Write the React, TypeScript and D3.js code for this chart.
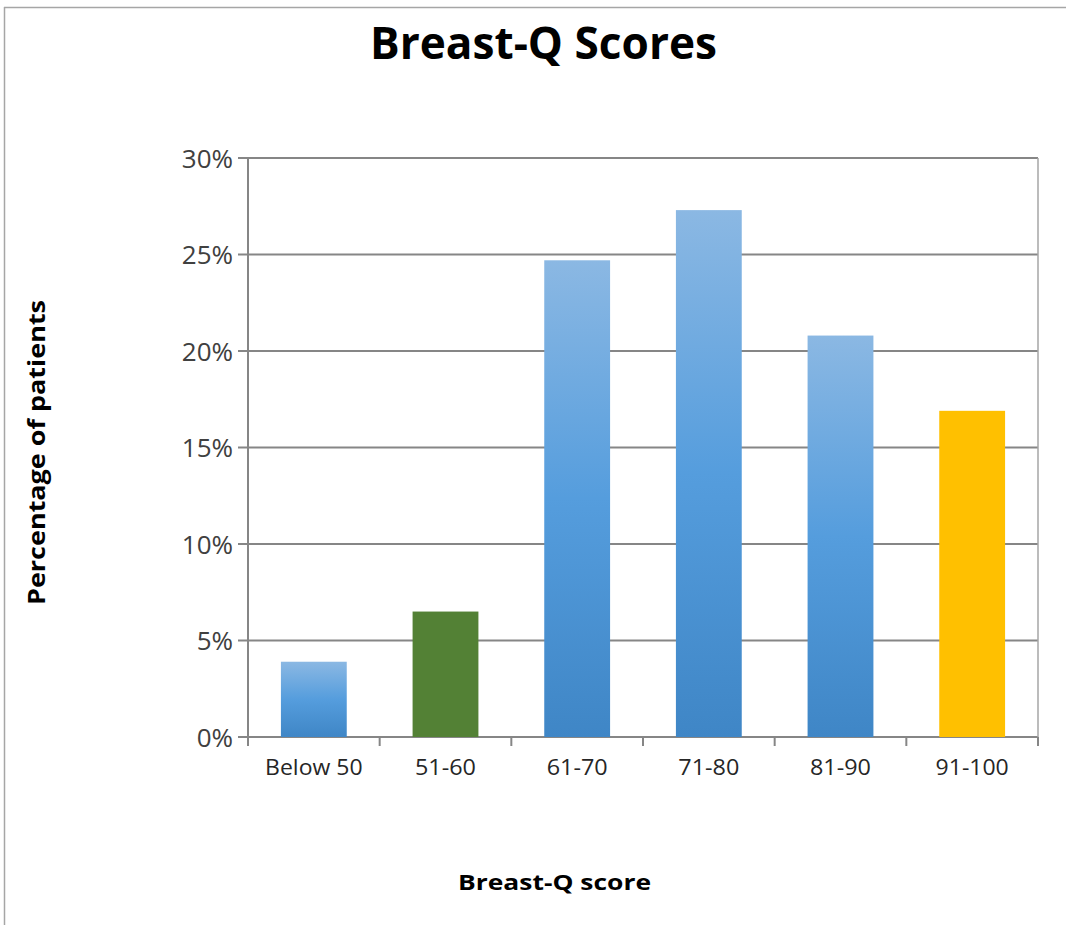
import React, { useEffect, useRef } from 'react';
import * as d3 from 'd3';

const categories = ['Below 50', '51-60', '61-70', '71-80', '81-90', '91-100'];
const percentages = [3.9, 6.5, 24.7, 27.3, 20.8, 16.9];
const barKinds = ['blue', 'green', 'blue', 'blue', 'blue', 'yellow'];
const yTicks = [0, 5, 10, 15, 20, 25, 30];

const W = 1066;
const H = 925;

const App = () => {
  const svgRef = useRef<SVGSVGElement>(null);

  useEffect(() => {
    const svg = d3.select(svgRef.current);
    svg.selectAll('*').remove();

    const left = 248, right = 1038, top = 158, bottom = 737;
    const font = 'Open Sans, sans-serif';

    const defs = svg.append('defs');
    const grad = defs.append('linearGradient')
      .attr('id', 'blueGrad')
      .attr('x1', 0).attr('y1', 0).attr('x2', 0).attr('y2', 1);
    grad.append('stop').attr('offset', '0%').attr('stop-color', '#8bb8e3');
    grad.append('stop').attr('offset', '50%').attr('stop-color', '#559ddd');
    grad.append('stop').attr('offset', '100%').attr('stop-color', '#3f86c6');

    const fills: Record<string, string> = {
      blue: 'url(#blueGrad)',
      green: '#538135',
      yellow: '#ffc000',
    };

    // outer frame (clipped)
    svg.append('line').attr('x1', 4).attr('x2', W).attr('y1', 7.5).attr('y2', 7.5)
      .attr('stroke', '#a6a6a6').attr('stroke-width', 1.5);
    svg.append('line').attr('x1', 4.5).attr('x2', 4.5).attr('y1', 7).attr('y2', H)
      .attr('stroke', '#a6a6a6').attr('stroke-width', 1.5);

    const x = d3.scaleBand().domain(categories).range([left, right]).paddingInner(0.5).paddingOuter(0.25);
    const y = d3.scaleLinear().domain([0, 30]).range([bottom, top]);

    // gridlines
    svg.append('g').selectAll('line').data(yTicks).enter().append('line')
      .attr('x1', left - 10).attr('x2', right)
      .attr('y1', d => y(d)).attr('y2', d => y(d))
      .attr('stroke', '#868686').attr('stroke-width', 2);

    // right border of plot
    svg.append('line').attr('x1', right).attr('x2', right).attr('y1', top).attr('y2', bottom)
      .attr('stroke', '#a6a6a6').attr('stroke-width', 1.5);

    // bars
    svg.append('g').selectAll('rect').data(categories).enter().append('rect')
      .attr('x', d => x(d)!)
      .attr('width', x.bandwidth())
      .attr('y', (d, i) => y(percentages[i]))
      .attr('height', (d, i) => bottom - y(percentages[i]))
      .attr('fill', (d, i) => fills[barKinds[i]]);

    // y axis line
    svg.append('line').attr('x1', left).attr('x2', left).attr('y1', top).attr('y2', bottom)
      .attr('stroke', '#868686').attr('stroke-width', 2);
    // x axis ticks
    const step = x.step();
    svg.append('g').selectAll('line').data(d3.range(categories.length + 1)).enter().append('line')
      .attr('x1', i => left + i * step).attr('x2', i => left + i * step)
      .attr('y1', bottom).attr('y2', bottom + 9)
      .attr('stroke', '#868686').attr('stroke-width', 2);

    // y tick labels
    svg.append('g').selectAll('text').data(yTicks).enter().append('text')
      .attr('x', left - 15).attr('y', d => y(d) + 9.5)
      .attr('text-anchor', 'end')
      .attr('font-family', font)
      .attr('font-size', 26)
      .attr('fill', '#404040')
      .text(d => `${d}%`);

    // x tick labels
    svg.append('g').selectAll('text').data(categories).enter().append('text')
      .attr('x', d => x(d)! + x.bandwidth() / 2).attr('y', bottom + 38)
      .attr('text-anchor', 'middle')
      .attr('font-family', font)
      .attr('font-size', 21)
      .attr('fill', '#262626')
      .attr('textLength', d => d.length * 12.2)
      .attr('lengthAdjust', 'spacingAndGlyphs')
      .text(d => d);

    // title
    svg.append('text').attr('x', 543.5).attr('y', 59)
      .attr('text-anchor', 'middle')
      .attr('font-family', font)
      .attr('font-weight', 'bold')
      .attr('font-size', 45)
      .attr('textLength', 347)
      .attr('lengthAdjust', 'spacingAndGlyphs')
      .attr('fill', '#000')
      .text('Breast-Q Scores');

    // x axis title
    svg.append('text').attr('x', 554.5).attr('y', 890)
      .attr('text-anchor', 'middle')
      .attr('font-family', font)
      .attr('font-weight', 'bold')
      .attr('font-size', 21)
      .attr('textLength', 193)
      .attr('lengthAdjust', 'spacingAndGlyphs')
      .attr('fill', '#000')
      .text('Breast-Q score');

    // y axis title
    svg.append('text')
      .attr('transform', 'translate(45,452.5) rotate(-90)')
      .attr('text-anchor', 'middle')
      .attr('font-family', font)
      .attr('font-weight', 'bold')
      .attr('font-size', 23)
      .attr('textLength', 305)
      .attr('lengthAdjust', 'spacingAndGlyphs')
      .attr('fill', '#000')
      .text('Percentage of patients');
  }, []);

  return (
    <svg ref={svgRef} width={W} height={H}
      style={{ position: 'absolute', left: 0, top: 0, background: '#fff' }} />
  );
};

export default App;
